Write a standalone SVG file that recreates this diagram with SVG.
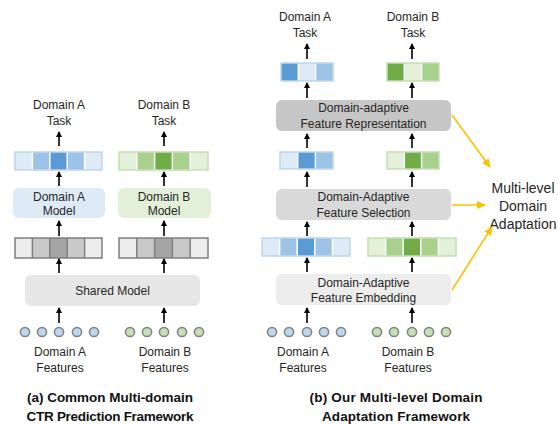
<svg xmlns="http://www.w3.org/2000/svg" width="558" height="424" viewBox="0 0 558 424">
<style>
text{font-family:"Liberation Sans",Arial,sans-serif;font-size:12px;fill:#262626;text-anchor:middle}
.cap{font-weight:bold;font-size:13.5px;fill:#111}
.big{font-size:14px}
.b1{fill:#deebf7}.b2{fill:#9dc3e6}.b3{fill:#5b9bd5}
.g1{fill:#e2f0d9}.g2{fill:#a9d18e}.g3{fill:#70ad47}
.k1{fill:#ededed}.k2{fill:#c9c9c9}.k3{fill:#a5a5a5}
.bb{fill:none;stroke:#bdd7ee;stroke-width:1.5}
.gb{fill:none;stroke:#c5e0b4;stroke-width:1.5}
.kb{fill:none;stroke:#7f7f7f;stroke-width:1.5}
.sep{stroke:#fff;stroke-width:1.5}
.ca{fill:#bdd7ee;stroke:#808080;stroke-width:1.5}
.cg{fill:#c5e0b4;stroke:#808080;stroke-width:1.5}
.ar{stroke:#000;stroke-width:1.6;marker-end:url(#ah)}
.oa{stroke:#ffc000;stroke-width:1.6;fill:none;marker-end:url(#oh)}
</style>
<defs>
<marker id="ah" markerWidth="6" markerHeight="6" refX="5" refY="3" orient="auto" markerUnits="userSpaceOnUse"><path d="M0,0 L6,3 L0,6 Z" fill="#000"/></marker>
<marker id="oh" markerWidth="9" markerHeight="8" refX="8" refY="4" orient="auto" markerUnits="userSpaceOnUse"><path d="M0,0 L9,4 L0,8 Z" fill="#ffc000"/></marker>
</defs>

<!-- Left panel -->
<g id="a-taskA"><text x="59" y="109">Domain A</text><text x="59" y="125">Task</text></g>
<g id="a-taskB"><text x="164" y="109">Domain B</text><text x="164" y="125">Task</text></g>

<g id="a-outA">
<rect class="b1" x="15" y="152" width="17.4" height="18"/><rect class="b2" x="32.4" y="152" width="17.4" height="18"/><rect class="b3" x="49.8" y="152" width="17.4" height="18"/><rect class="b2" x="67.2" y="152" width="17.4" height="18"/><rect class="b1" x="84.6" y="152" width="17.4" height="18"/>
<path class="sep" d="M32.4,152v18M49.8,152v18M67.2,152v18M84.6,152v18"/>
<rect class="bb" x="15" y="152" width="87" height="18"/>
</g>
<g id="a-outB">
<rect class="g1" x="119" y="152" width="17.8" height="18"/><rect class="g2" x="136.8" y="152" width="17.8" height="18"/><rect class="g3" x="154.6" y="152" width="17.8" height="18"/><rect class="g2" x="172.4" y="152" width="17.8" height="18"/><rect class="g1" x="190.2" y="152" width="17.8" height="18"/>
<path class="sep" d="M136.8,152v18M154.6,152v18M172.4,152v18M190.2,152v18"/>
<rect class="gb" x="119" y="152" width="89" height="18"/>
</g>

<g id="a-modelA"><rect x="13" y="188" width="92" height="30" rx="6" fill="#deebf7"/><text x="59" y="201">Domain A</text><text x="59" y="215">Model</text></g>
<g id="a-modelB"><rect x="118" y="188" width="93" height="30" rx="6" fill="#e2f0d9"/><text x="164" y="201">Domain B</text><text x="164" y="215">Model</text></g>

<g id="a-embA">
<rect class="k1" x="15" y="238" width="17.4" height="20"/><rect class="k2" x="32.4" y="238" width="17.4" height="20"/><rect class="k3" x="49.8" y="238" width="17.4" height="20"/><rect class="k2" x="67.2" y="238" width="17.4" height="20"/><rect class="k1" x="84.6" y="238" width="17.4" height="20"/>
<path class="kb" d="M32.4,238v20M49.8,238v20M67.2,238v20M84.6,238v20"/>
<rect class="kb" x="15" y="238" width="87" height="20"/>
</g>
<g id="a-embB">
<rect class="k1" x="119" y="238" width="17.8" height="20"/><rect class="k2" x="136.8" y="238" width="17.8" height="20"/><rect class="k3" x="154.6" y="238" width="17.8" height="20"/><rect class="k2" x="172.4" y="238" width="17.8" height="20"/><rect class="k1" x="190.2" y="238" width="17.8" height="20"/>
<path class="kb" d="M136.8,238v20M154.6,238v20M172.4,238v20M190.2,238v20"/>
<rect class="kb" x="119" y="238" width="89" height="20"/>
</g>

<g id="a-shared"><rect x="25" y="275" width="175" height="31" rx="6" fill="#e7e7e7"/><text x="112.5" y="295">Shared Model</text></g>

<g id="a-featA">
<circle class="ca" cx="25" cy="332" r="4.6"/><circle class="ca" cx="42" cy="332" r="4.6"/><circle class="ca" cx="59" cy="332" r="4.6"/><circle class="ca" cx="77" cy="332" r="4.6"/><circle class="ca" cx="94" cy="332" r="4.6"/>
<text x="60" y="356">Domain A</text><text x="60" y="372">Features</text>
</g>
<g id="a-featB">
<circle class="cg" cx="130" cy="332" r="4.6"/><circle class="cg" cx="147" cy="332" r="4.6"/><circle class="cg" cx="164" cy="332" r="4.6"/><circle class="cg" cx="182" cy="332" r="4.6"/><circle class="cg" cx="199" cy="332" r="4.6"/>
<text x="165" y="356">Domain B</text><text x="165" y="372">Features</text>
</g>
<g id="a-caption"><text class="cap" x="110" y="402" textLength="166" lengthAdjust="spacing">(a) Common Multi-domain</text><text class="cap" x="110" y="421" textLength="167" lengthAdjust="spacing">CTR Prediction Framework</text></g>

<!-- Right panel -->
<g id="b-taskA"><text x="305" y="21">Domain A</text><text x="305" y="37">Task</text></g>
<g id="b-taskB"><text x="413" y="21">Domain B</text><text x="413" y="37">Task</text></g>

<g id="b-outA">
<rect class="b3" x="281" y="63" width="17.3" height="18"/><rect class="b1" x="298.3" y="63" width="17.3" height="18"/><rect class="b2" x="315.6" y="63" width="17.4" height="18"/>
<path class="sep" d="M298.3,63v18M315.6,63v18"/><rect class="bb" x="281" y="63" width="52" height="18"/>
</g>
<g id="b-outB">
<rect class="g3" x="387" y="63" width="17.3" height="18"/><rect class="g1" x="404.3" y="63" width="17.3" height="18"/><rect class="g2" x="421.6" y="63" width="17.4" height="18"/>
<path class="sep" d="M404.3,63v18M421.6,63v18"/><rect class="gb" x="387" y="63" width="52" height="18"/>
</g>

<g id="b-rep"><rect x="276" y="100" width="175" height="31" rx="6" fill="#c6c6c6"/><text x="363.5" y="112">Domain-adaptive</text><text x="363.5" y="128">Feature Representation</text></g>

<g id="b-selA">
<rect class="b1" x="280" y="152" width="17.7" height="17"/><rect class="b3" x="297.7" y="152" width="17.7" height="17"/><rect class="b2" x="315.4" y="152" width="17.6" height="17"/>
<path class="sep" d="M297.7,152v17M315.4,152v17"/><rect class="bb" x="280" y="152" width="53" height="17"/>
</g>
<g id="b-selB">
<rect class="g1" x="387" y="152" width="17.3" height="17"/><rect class="g3" x="404.3" y="152" width="17.3" height="17"/><rect class="g2" x="421.6" y="152" width="17.4" height="17"/>
<path class="sep" d="M404.3,152v17M421.6,152v17"/><rect class="gb" x="387" y="152" width="52" height="17"/>
</g>

<g id="b-sel"><rect x="276" y="189" width="175" height="31" rx="6" fill="#d9d9d9"/><text x="363.5" y="201">Domain-Adaptive</text><text x="363.5" y="217">Feature Selection</text></g>

<g id="b-embA">
<rect class="b1" x="262" y="238" width="17.6" height="18"/><rect class="b2" x="279.6" y="238" width="17.6" height="18"/><rect class="b3" x="297.2" y="238" width="17.6" height="18"/><rect class="b2" x="314.8" y="238" width="17.6" height="18"/><rect class="b1" x="332.4" y="238" width="17.6" height="18"/>
<path class="sep" d="M279.6,238v18M297.2,238v18M314.8,238v18M332.4,238v18"/>
<rect class="bb" x="262" y="238" width="88" height="18"/>
</g>
<g id="b-embB">
<rect class="g1" x="368" y="238" width="17.6" height="18"/><rect class="g2" x="385.6" y="238" width="17.6" height="18"/><rect class="g3" x="403.2" y="238" width="17.6" height="18"/><rect class="g2" x="420.8" y="238" width="17.6" height="18"/><rect class="g1" x="438.4" y="238" width="17.6" height="18"/>
<path class="sep" d="M385.6,238v18M403.2,238v18M420.8,238v18M438.4,238v18"/>
<rect class="gb" x="368" y="238" width="88" height="18"/>
</g>

<g id="b-emb"><rect x="276" y="274" width="175" height="31" rx="6" fill="#ededed"/><text x="363.5" y="287">Domain-Adaptive</text><text x="363.5" y="302">Feature Embedding</text></g>

<g id="b-featA">
<circle class="ca" cx="272" cy="332" r="4.6"/><circle class="ca" cx="289" cy="332" r="4.6"/><circle class="ca" cx="307" cy="332" r="4.6"/><circle class="ca" cx="324" cy="332" r="4.6"/><circle class="ca" cx="341" cy="332" r="4.6"/>
<text x="303" y="356">Domain A</text><text x="303" y="372">Features</text>
</g>
<g id="b-featB">
<circle class="cg" cx="377" cy="332" r="4.6"/><circle class="cg" cx="394" cy="332" r="4.6"/><circle class="cg" cx="412" cy="332" r="4.6"/><circle class="cg" cx="429" cy="332" r="4.6"/><circle class="cg" cx="446" cy="332" r="4.6"/>
<text x="408" y="356">Domain B</text><text x="408" y="372">Features</text>
</g>
<g id="b-caption"><text class="cap" x="396" y="402" textLength="173" lengthAdjust="spacing">(b) Our Multi-level Domain</text><text class="cap" x="396" y="421" textLength="148" lengthAdjust="spacing">Adaptation Framework</text></g>

<g id="mlda"><text class="big" x="523" y="193">Multi-level</text><text class="big" x="523" y="211">Domain</text><text class="big" x="523" y="229">Adaptation</text></g>

<g id="connectors">
<line class="ar" x1="59" y1="146" x2="59" y2="132"/>
<line class="ar" x1="164" y1="146" x2="164" y2="132"/>
<line class="ar" x1="59" y1="186" x2="59" y2="172"/>
<line class="ar" x1="164" y1="186" x2="164" y2="172"/>
<line class="ar" x1="59" y1="236" x2="59" y2="221"/>
<line class="ar" x1="164" y1="236" x2="164" y2="221"/>
<line class="ar" x1="59" y1="273" x2="59" y2="259"/>
<line class="ar" x1="164" y1="273" x2="164" y2="259"/>
<line class="ar" x1="59" y1="323" x2="59" y2="308"/>
<line class="ar" x1="164" y1="323" x2="164" y2="308"/>

<line class="ar" x1="307" y1="59" x2="307" y2="44"/>
<line class="ar" x1="412" y1="59" x2="412" y2="44"/>
<line class="ar" x1="307" y1="98" x2="307" y2="83"/>
<line class="ar" x1="412" y1="98" x2="412" y2="83"/>
<line class="ar" x1="307" y1="148" x2="307" y2="134"/>
<line class="ar" x1="412" y1="148" x2="412" y2="134"/>
<line class="ar" x1="307" y1="187" x2="307" y2="172"/>
<line class="ar" x1="412" y1="187" x2="412" y2="172"/>
<line class="ar" x1="307" y1="236" x2="307" y2="222"/>
<line class="ar" x1="412" y1="236" x2="412" y2="222"/>
<line class="ar" x1="307" y1="272" x2="307" y2="258"/>
<line class="ar" x1="412" y1="272" x2="412" y2="258"/>
<line class="ar" x1="307" y1="323" x2="307" y2="308"/>
<line class="ar" x1="412" y1="323" x2="412" y2="308"/>

<line class="oa" x1="452" y1="115" x2="490" y2="167"/>
<line class="oa" x1="452" y1="205" x2="485" y2="205"/>
<line class="oa" x1="452" y1="290" x2="492" y2="227"/>
</g>
</svg>
